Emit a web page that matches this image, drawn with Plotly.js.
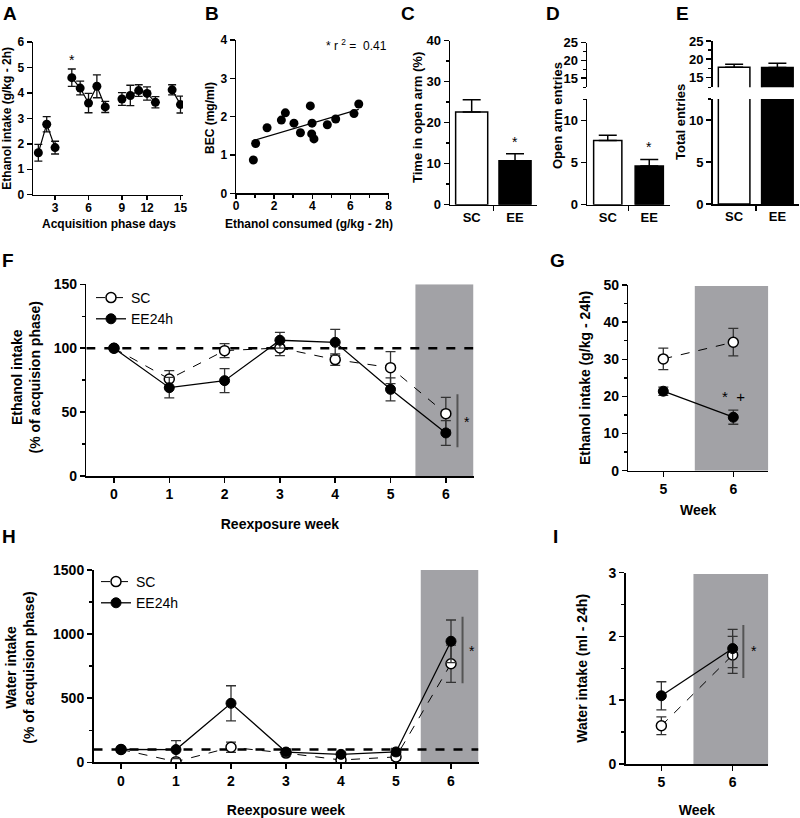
<!DOCTYPE html>
<html><head><meta charset="utf-8">
<script src="https://cdn.plot.ly/plotly-3.0.1.min.js"></script>
<style>html,body{margin:0;padding:0;background:#fff;}#chart{width:800px;height:818px;}</style>
</head><body><div id="chart"></div>
<script>
// ---------- DATA ----------
// A: acquisition phase (calendar position of each session, labelled by session number)
const acqDayPos = [1,2,3,5,6,7,8,9,11,12,13,14,15,17,18];
const acqIntake = [1.65,2.77,1.85,4.60,4.19,3.60,4.26,3.45,3.76,3.90,4.09,3.98,3.63,4.12,3.54];
const acqSem    = [0.33,0.30,0.25,0.34,0.27,0.38,0.45,0.22,0.25,0.40,0.23,0.26,0.22,0.20,0.33];
const acqTickPos  = [3,7,11,14,18];
const acqTickText = ['3','6','9','12','15'];
// B: BEC vs ethanol consumed
const becX = [0.91,1.03,1.63,2.38,2.59,3.04,3.38,3.90,3.99,3.97,4.09,4.79,5.23,6.19,6.44];
const becY = [0.87,1.30,1.71,1.91,2.10,1.83,1.58,2.28,1.83,1.55,1.42,1.79,1.94,2.08,2.33];
const rSquaredText = '0.41';
// C-E: elevated plus maze
const groups = ['SC','EE'];
const openArmTime = [22.6,10.7];  const openArmTimeSem = [3.0,1.7];
const openArmEntries = [7.6,4.6]; const openArmEntriesSem = [0.65,0.75];
const totalEntries = [17.8,17.7]; const totalEntriesSem = [0.85,1.2];
// F: ethanol intake % of acquisition
const weeks = [0,1,2,3,4,5,6];
const etohPctSC = [100,75.9,98.1,100.2,91.1,84.8,48.8];
const etohPctSCsem = [0,6.5,5.5,6.0,4.5,12.5,12.8];
const etohPctEE = [100,69.1,74.6,106.2,104.6,67.8,33.7];
const etohPctEEsem = [0,8.0,9.4,6.2,10.2,9.0,9.7];
// G: ethanol intake g/kg-24h
const weeks56 = [5,6];
const etoh24SC = [30.1,34.6]; const etoh24SCsem = [2.9,3.7];
const etoh24EE = [21.4,14.4]; const etoh24EEsem = [1.1,1.9];
// H: water intake % of acquisition
const waterPctSC = [100,5,117,72,18,42,769];
const waterPctSCsem = [0,20,40,20,12,25,145];
const waterPctEE = [100,99,460,80,62,81,944];
const waterPctEEsem = [0,70,137,25,15,28,166];
// I: water intake ml-24h
const waterMlSC = [0.60,1.71]; const waterMlSCsem = [0.14,0.29];
const waterMlEE = [1.07,1.81]; const waterMlEEsem = [0.22,0.30];
// shaded week-6 region and reference level
const shadeWeeks = [5.45,6.5];
const baselinePct = 100;

// ---------- HELPERS ----------
const W = 800, H = 818;
const FONT = 'Liberation Sans, Arial, Helvetica, sans-serif';
const GRAY = 'rgb(162,162,166)';
const xd = (a,b) => [a/W, b/W];
const yd = (t,b) => [1-b/H, 1-t/H];
function ax(extra, fs){
  fs = fs || 12;
  return Object.assign({showline:true, linecolor:'#000', linewidth:1.5, ticks:'outside', ticklen:5,
    tickwidth:1.5, tickcolor:'#000', showgrid:false, zeroline:false, fixedrange:true,
    tickfont:{family:FONT, size:fs, color:'#000', weight:'bold'}}, extra);
}
function ttl(text, fs){ return {text:text, font:{family:FONT, size:fs, color:'#000', weight:'bold'}}; }
function minor(opts){ return Object.assign({ticks:'outside', ticklen:3, tickwidth:1.5, tickcolor:'#000', showgrid:false}, opts); }
function errY(arr, opts){ return Object.assign({type:'data', array:arr, visible:true, color:'#111', thickness:1.3, width:4}, opts); }
function errUp(arr){ return {type:'data', symmetric:false, array:arr, arrayminus:arr.map(()=>0), visible:true, color:'#000', thickness:1.5, width:9}; }
const idx = groups.map((g,i)=>i);

// A line segments (break between non-consecutive days)
const aLineX = [], aLineY = [];
acqDayPos.forEach((d,i)=>{ if(i>0 && d-acqDayPos[i-1]>1){aLineX.push(null); aLineY.push(null);} aLineX.push(d); aLineY.push(acqIntake[i]); });
// B regression
const mx = becX.reduce((a,b)=>a+b,0)/becX.length, my = becY.reduce((a,b)=>a+b,0)/becY.length;
let sxy=0, sxx=0; becX.forEach((x,i)=>{ sxy+=(x-mx)*(becY[i]-my); sxx+=(x-mx)*(x-mx); });
const slope = sxy/sxx, icpt = my - slope*mx;
const fitX = [Math.min(...becX), Math.max(...becX)];
const fitY = fitX.map(x=>icpt+slope*x);

const traces = [];
// A
traces.push({type:'scatter', x:aLineX, y:aLineY, mode:'lines', connectgaps:false, line:{color:'#000', width:1.2}, xaxis:'x', yaxis:'y', showlegend:false, hoverinfo:'skip'});
traces.push({type:'scatter', x:acqDayPos, y:acqIntake, mode:'markers', marker:{size:9, color:'#000'}, error_y:errY(acqSem), xaxis:'x', yaxis:'y', showlegend:false});
// B
traces.push({type:'scatter', x:fitX, y:fitY, mode:'lines', line:{color:'#000', width:1.2}, xaxis:'x2', yaxis:'y2', showlegend:false});
traces.push({type:'scatter', x:becX, y:becY, mode:'markers', marker:{size:9, color:'#000'}, xaxis:'x2', yaxis:'y2', showlegend:false});
// C, D, E bars (D and E use a broken y axis: lower + upper segment)
const barStyle = {color:['#fff','#000'], line:{color:'#000', width:1.5}};
traces.push({type:'bar', x:idx, y:openArmTime, width:0.74, marker:barStyle, error_y:errUp(openArmTimeSem), xaxis:'x3', yaxis:'y3', showlegend:false});
traces.push({type:'bar', x:idx, y:openArmEntries, width:0.68, marker:barStyle, error_y:errUp(openArmEntriesSem), xaxis:'x4', yaxis:'y4', showlegend:false});
traces.push({type:'bar', x:idx, y:openArmEntries, width:0.68, marker:barStyle, xaxis:'x4', yaxis:'y5', showlegend:false});
traces.push({type:'bar', x:idx, y:totalEntries, width:0.73, marker:barStyle, xaxis:'x5', yaxis:'y6', showlegend:false});
traces.push({type:'bar', x:idx, y:totalEntries, width:0.73, marker:barStyle, error_y:errUp(totalEntriesSem), xaxis:'x5', yaxis:'y7', showlegend:false});
// F, G, H, I line panels
function pair(xa, ya, xs, sc, scSem, ee, eeSem, legendName){
  const ms = 10;
  const scT = {type:'scatter', name:'SC', x:xs, y:sc, mode:'lines+markers', line:{color:'#000', width:1, dash:'dash'},
    marker:{symbol:'circle', size:ms, color:'#fff', line:{color:'#000', width:1.5}}, error_y:errY(scSem,{width:5, color:'#333'}),
    xaxis:xa, yaxis:ya, showlegend:!!legendName, legendrank:1};
  const eeT = {type:'scatter', name:'EE24h', x:xs, y:ee, mode:'lines+markers', line:{color:'#000', width:1.3},
    marker:{symbol:'circle', size:ms, color:'#000', line:{color:'#000', width:1}}, error_y:errY(eeSem,{width:5, color:'#333'}),
    xaxis:xa, yaxis:ya, showlegend:!!legendName, legendrank:2};
  if(legendName){ scT.legend = legendName; eeT.legend = legendName; }
  traces.push(scT, eeT);
}
pair('x6','y8', weeks, etohPctSC, etohPctSCsem, etohPctEE, etohPctEEsem, 'legend');
pair('x7','y9', weeks56, etoh24SC, etoh24SCsem, etoh24EE, etoh24EEsem, null);
pair('x8','y10', weeks, waterPctSC, waterPctSCsem, waterPctEE, waterPctEEsem, 'legend2');
pair('x9','y11', weeks56, waterMlSC, waterMlSCsem, waterMlEE, waterMlEEsem, null);

// ---------- LAYOUT ----------
const barX = (dom, fs) => ax({domain:dom, range:[-0.5,1.5], tickmode:'array', tickvals:idx, ticktext:groups, ticks:'', minor:minor({tickmode:'array', tickvals:[0.5], ticklen:5})}, fs);
const layout = {
  width:W, height:H, margin:{l:0,r:0,t:0,b:0}, paper_bgcolor:'#fff', plot_bgcolor:'rgba(0,0,0,0)',
  font:{family:FONT, color:'#000'},
  // A
  xaxis: ax({domain:xd(33,183), range:[0.36,18.3], anchor:'y', tickmode:'array', tickvals:acqTickPos, ticktext:acqTickText, ticklen:4, ticklabelstandoff:-3},12),
  yaxis: ax({domain:yd(42,194.7), range:[0,6], anchor:'x', dtick:1, title:ttl('Ethanol intake (g/kg - 2h)',12)},12),
  // B
  xaxis2: ax({domain:xd(236,388.5), range:[0,8], anchor:'y2', dtick:2, ticklen:4, ticklabelstandoff:-3, minor:minor({dtick:1})},12),
  yaxis2: ax({domain:yd(40,193.3), range:[0,4], anchor:'x2', dtick:1},12),
  // C
  xaxis3: Object.assign(barX(xd(450,536.7),13), {anchor:'y3'}),
  yaxis3: ax({domain:yd(40.7,204.7), range:[0,40], anchor:'x3', dtick:10, minor:minor({dtick:5})},13),
  // D
  xaxis4: Object.assign(barX(xd(587,670),13), {anchor:'y4'}),
  yaxis4: ax({domain:yd(99.3,204.7), range:[0,12.5], anchor:'x4', tickmode:'array', tickvals:[0,5,10], minor:minor({tickmode:'array', tickvals:[12.5]})},13),
  yaxis5: ax({domain:yd(42.7,87.3), range:[12.4,25], anchor:'x4', tickmode:'array', tickvals:[15,20,25], minor:minor({tickmode:'array', tickvals:[12.4,17.5,22.5]})},13),
  // E
  xaxis5: Object.assign(barX(xd(712.5,799),13), {anchor:'y6'}),
  yaxis6: ax({domain:yd(99,204), range:[0,12.5], anchor:'x5', tickmode:'array', tickvals:[0,5,10], minor:minor({tickmode:'array', tickvals:[12.5]})},13),
  yaxis7: ax({domain:yd(41,87.3), range:[12.3,25], anchor:'x5', tickmode:'array', tickvals:[15,20,25], minor:minor({tickmode:'array', tickvals:[12.3,17.5,22.5]})},13),
  // F
  xaxis6: ax({domain:xd(86.3,473.5), range:[-0.5,6.5], anchor:'y8', dtick:1, title:ttl('Reexposure week',14)},14),
  yaxis8: ax({domain:yd(284.3,476), range:[0,150], anchor:'x6', dtick:50, minor:minor({dtick:25})},14),
  // G
  xaxis7: ax({domain:xd(628.3,768.3), range:[4.5,6.5], anchor:'y9', tickmode:'array', tickvals:weeks56},14),
  yaxis9: ax({domain:yd(285,470.7), range:[0,50], anchor:'x7', dtick:10, minor:minor({dtick:5}), title:ttl('Ethanol intake (g/kg - 24h)',14)},14),
  // H
  xaxis8: ax({domain:xd(93.5,478.5), range:[-0.5,6.5], anchor:'y10', dtick:1, title:ttl('Reexposure week',14)},14),
  yaxis10: ax({domain:yd(570,762.3), range:[0,1500], anchor:'x8', dtick:500, minor:minor({dtick:250})},14),
  // I
  xaxis9: ax({domain:xd(625.7,768.3), range:[4.5,6.5], anchor:'y11', tickmode:'array', tickvals:weeks56, title:ttl('Week',14)},14),
  yaxis11: ax({domain:yd(572.7,764), range:[0,3], anchor:'x9', dtick:1, minor:minor({dtick:0.5}), title:ttl('Water intake (ml - 24h)',14)},14),
  legend: {x:91/W, y:1-282/H, xanchor:'left', yanchor:'top', bgcolor:'rgba(0,0,0,0)', font:{family:FONT, size:14, color:'#000'}, tracegroupgap:0, itemwidth:30},
  legend2: {x:96/W, y:1-566/H, xanchor:'left', yanchor:'top', bgcolor:'rgba(0,0,0,0)', font:{family:FONT, size:14, color:'#000'}, tracegroupgap:0, itemwidth:30},
  shapes: [], annotations: []
};
// shaded regions and baseline
[['x6','y8',150],['x7','y9',49.7],['x8','y10',1500],['x9','y11',2.98]].forEach(([xa,ya,top])=>{
  layout.shapes.push({type:'rect', xref:xa, yref:ya, x0:shadeWeeks[0], x1:shadeWeeks[1], y0:0, y1:top, fillcolor:GRAY, line:{width:0}, layer:'below'});
});
[['x6','y8'],['x8','y10']].forEach(([xa,ya])=>{
  layout.shapes.push({type:'line', xref:xa, yref:ya, x0:-0.5, x1:6.5, y0:baselinePct, y1:baselinePct, line:{color:'#000', width:2.5, dash:'dash'}, layer:'below'});
});
// significance bars
const sig = [['x6','y8',6.21,22.4,63.9],['x8','y10',6.21,616,1136],['x9','y11',6.15,1.35,2.18]];
sig.forEach(([xa,ya,x,y0,y1])=>layout.shapes.push({type:'line', xref:xa, yref:ya, x0:x, x1:x, y0:y0, y1:y1, line:{color:'#555', width:2}}));
// text annotations
function ann(xref, yref, x, y, text, size, extra){
  layout.annotations.push(Object.assign({xref:xref, yref:yref, x:x, y:y, text:text, showarrow:false,
    xanchor:'center', yanchor:'middle', font:{family:FONT, size:size, color:'#000'}}, extra||{}));
}
function pann(px, py, text, size, extra){ ann('paper','paper', px/W, 1-py/H, text, size, extra); }
const bold = s => ({font:{family:FONT, size:s, color:'#000', weight:'bold'}});
const starFont = 14;
ann('x','y',5,5.3,'*',starFont);
ann('x3','y3',1,15.4,'*',starFont);
ann('x4','y4',1,6.9,'*',starFont);
ann('x6','y8',6.38,42.5,'*',starFont);
ann('x7','y9',6,20.1,'*  +',15);
ann('x8','y10',6.38,870,'*',starFont);
ann('x9','y11',6.3,1.78,'*',starFont);
pann(324, 45, '* r <sup>2</sup> =  '+rSquaredText, 12, {xanchor:'left'});
// axis titles placed to match the reference
pann(108.5, 224, 'Acquisition phase days', 12, bold(12));
pann(309, 224, 'Ethanol consumed (g/kg - 2h)', 12, bold(12));
pann(210, 118, 'BEC (mg/ml)', 12, Object.assign({textangle:-90}, bold(12)));
pann(418, 118, 'Time in open arm (%)', 13, Object.assign({textangle:-90}, bold(13)));
pann(558, 116, 'Open arm entries', 13, Object.assign({textangle:-90}, bold(13)));
pann(681, 122, 'Total entries', 13, Object.assign({textangle:-90}, bold(13)));
pann(25.5, 378, 'Ethanol intake<br>(% of acquision phase)', 14, Object.assign({textangle:-90}, bold(14)));
pann(698, 510, 'Week', 14, bold(14));
pann(19.7, 668, 'Water intake<br>(% of acquision phase)', 14, Object.assign({textangle:-90}, bold(14)));
// panel letters
const letters = [['A',9.5,13.5],['B',211.5,13.5],['C',408,13.5],['D',552.5,13.5],['E',682.5,13.5],['F',8,261],['G',557,260],['H',9,536],['I',555,536]];
letters.forEach(([t,x,y])=>pann(x,y,t,19,bold(19)));

Plotly.newPlot('chart', traces, layout, {staticPlot:true, displayModeBar:false});
</script></body></html>
